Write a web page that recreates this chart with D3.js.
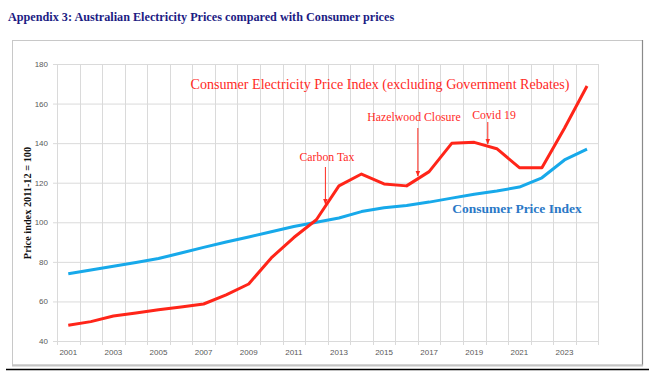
<!DOCTYPE html>
<html>
<head>
<meta charset="utf-8">
<script src="https://cdn.jsdelivr.net/npm/d3@7"></script>
<style>
  body { margin: 0; background: #fff; }
  svg { display: block; }
  .tick text { font-family: "Liberation Sans", Arial, sans-serif; font-size: 8px; fill: #595959; }
</style>
</head>
<body>
<div id="chart"></div>
<script>
// data (index, 2011-12 = 100)
var years = d3.range(2001, 2025);
var electricity = [48, 49.8, 52.6, 54.2, 55.8, 57.2, 58.7, 63.3, 68.8, 82, 92.3, 101.3,
                   118.4, 124.4, 119.4, 118.4, 125.6, 139.9, 140.4, 137.2, 127.6, 127.6, 147.5, 168.9];
var cpi = [74, 75.9, 77.8, 79.7, 81.7, 84.5, 87.3, 90, 92.6, 95.2, 97.9, 100,
           102.2, 105.4, 107.3, 108.5, 110.2, 112.2, 114.2, 115.8, 117.8, 122.5, 131.5, 137];
var yTicks = [40, 60, 80, 100, 120, 140, 160, 180];
var xLabels = years.filter(function(y) { return y % 2 == 1; });

// annotations: label, year the arrow points at, label position
var notes = [
  {text: 'Carbon Tax',         year: 2012.4, lx: 327, ly: 157, y1: 167, y2: 204},
  {text: 'Hazelwood Closure',  year: 2016.5, lx: 414, ly: 117, y1: 128, y2: 176},
  {text: 'Covid 19',           year: 2019.6, lx: 494, ly: 115, y1: 122, y2: 144}
];

var W = 666, H = 386;
var margin = {top: 64, right: 598.3, bottom: 341, left: 57};

var svg = d3.select('#chart').append('svg')
    .attr('width', W)
    .attr('height', H);

// arrow head
svg.append('defs').append('marker')
    .attr('id', 'arr')
    .attr('viewBox', '0 0 10 10')
    .attr('refX', 9).attr('refY', 5)
    .attr('markerWidth', 6).attr('markerHeight', 6)
    .attr('orient', 'auto')
  .append('path')
    .attr('d', 'M0,1 L10,5 L0,9 Z')
    .attr('fill', '#ff2a1f');

// title
svg.append('text')
    .attr('x', 8).attr('y', 21)
    .style('font-family', '"Liberation Serif", "Times New Roman", serif')
    .style('font-weight', 'bold')
    .style('font-size', '12.2px')
    .style('fill', '#1c1c84')
    .text('Appendix 3: Australian Electricity Prices compared with Consumer prices');

// chart frame (with a little shadow on right/bottom)
svg.append('rect')
    .attr('x', 12.5).attr('y', 40.5)
    .attr('width', 630).attr('height', 324.5)
    .attr('fill', 'none').attr('stroke', '#c8c8c8');
svg.append('line')
    .attr('x1', 642.5).attr('x2', 642.5).attr('y1', 40).attr('y2', 366)
    .attr('stroke', '#8a8a8a').attr('stroke-width', 1.2);
svg.append('line')
    .attr('x1', 12).attr('x2', 643).attr('y1', 365.5).attr('y2', 365.5)
    .attr('stroke', '#c4c4c4').attr('stroke-width', 2);
svg.append('line')
    .attr('x1', 6).attr('x2', 649).attr('y1', 369.5).attr('y2', 369.5)
    .attr('stroke', '#000').attr('stroke-width', 1.3);

var x = d3.scaleBand()
    .domain(years)
    .range([margin.left, margin.right])
    .padding(0);
var y = d3.scaleLinear()
    .domain([40, 180])
    .range([margin.bottom, margin.top]);

function cx(yr) { return x(Math.floor(yr)) + x.bandwidth() * (0.5 + yr - Math.floor(yr)); }

// vertical gridlines at category boundaries
var bounds = years.map(function(d) { return x(d); }).concat([margin.right]);
svg.append('g').selectAll('line')
    .data(bounds)
  .enter().append('line')
    .attr('x1', function(d) { return Math.round(d) + 0.5; })
    .attr('x2', function(d) { return Math.round(d) + 0.5; })
    .attr('y1', margin.top)
    .attr('y2', margin.bottom + 4)
    .attr('stroke', '#dadada');

// y axis + horizontal grid
var yAxis = svg.append('g')
    .attr('transform', 'translate(' + margin.left + ',0)')
    .call(d3.axisLeft(y).tickValues(yTicks).tickSize(4).tickPadding(5));
yAxis.select('.domain').attr('stroke', '#dadada');
yAxis.selectAll('.tick line').attr('stroke', '#dadada');
yAxis.selectAll('.tick').append('line')
    .attr('x1', 0).attr('x2', margin.right - margin.left)
    .attr('stroke', '#dadada');

// x axis labels (every second year)
var xAxis = svg.append('g')
    .attr('transform', 'translate(0,' + margin.bottom + ')')
    .call(d3.axisBottom(x).tickValues(xLabels).tickSize(0).tickPadding(8));
xAxis.select('.domain').remove();

// y axis title
svg.append('text')
    .attr('transform', 'translate(31,203) rotate(-90)')
    .attr('text-anchor', 'middle')
    .style('font-family', '"Liberation Serif", "Times New Roman", serif')
    .style('font-weight', 'bold')
    .style('font-size', '10.3px')
    .style('fill', '#111')
    .text('Price index 2011-12 = 100');

var line = d3.line()
    .x(function(d, i) { return x(years[i]) + x.bandwidth() / 2; })
    .y(function(d) { return y(d); });

svg.append('path')
    .datum(cpi)
    .attr('fill', 'none')
    .attr('stroke', '#17a9ea')
    .attr('stroke-width', 3)
    .attr('stroke-linejoin', 'round')
    .attr('d', line);

svg.append('path')
    .datum(electricity)
    .attr('fill', 'none')
    .attr('stroke', '#ff2519')
    .attr('stroke-width', 3)
    .attr('stroke-linejoin', 'round')
    .attr('d', line);

// series labels
svg.append('text')
    .attr('x', 380).attr('y', 89)
    .attr('text-anchor', 'middle')
    .style('font-family', '"Liberation Serif", "Times New Roman", serif')
    .style('font-size', '14.1px')
    .style('fill', '#ff2a1f')
    .text('Consumer Electricity Price Index (excluding Government Rebates)');

svg.append('text')
    .attr('x', 517).attr('y', 213)
    .attr('text-anchor', 'middle')
    .style('font-family', '"Liberation Serif", "Times New Roman", serif')
    .style('font-weight', 'bold')
    .style('font-size', '13.5px')
    .style('fill', '#2a78c6')
    .text('Consumer Price Index');

// event annotations
var ng = svg.append('g').selectAll('g')
    .data(notes)
  .enter().append('g');
ng.append('text')
    .attr('x', function(d) { return d.lx; })
    .attr('y', function(d) { return d.ly + 4; })
    .attr('text-anchor', 'middle')
    .style('font-family', '"Liberation Serif", "Times New Roman", serif')
    .style('font-size', '11.8px')
    .style('fill', '#ff2a1f')
    .text(function(d) { return d.text; });
ng.append('line')
    .attr('x1', function(d) { return cx(d.year); })
    .attr('x2', function(d) { return cx(d.year); })
    .attr('y1', function(d) { return d.y1; })
    .attr('y2', function(d) { return d.y2; })
    .attr('stroke', '#ff2a1f')
    .attr('stroke-width', 1)
    .attr('marker-end', 'url(#arr)');
</script>
</body>
</html>
